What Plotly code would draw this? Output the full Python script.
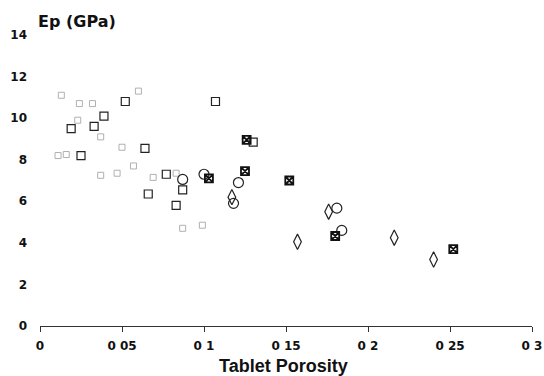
import plotly.graph_objects as go

# Open squares
sq_x = [0.052, 0.039, 0.033, 0.064, 0.077, 0.087, 0.066, 0.083, 0.107, 0.130, 0.019, 0.025]
sq_y = [10.8, 10.1, 9.6, 8.55, 7.3, 6.55, 6.35, 5.8, 10.8, 8.85, 9.5, 8.2]
# Open circles
ci_x = [0.087, 0.100, 0.121, 0.118, 0.181, 0.184]
ci_y = [7.05, 7.3, 6.9, 5.9, 5.67, 4.6]
# Open diamonds
di_x = [0.117, 0.176, 0.157, 0.216, 0.240]
di_y = [6.2, 5.5, 4.05, 4.25, 3.2]
# Crossed squares
cs_x = [0.103, 0.126, 0.125, 0.152, 0.180, 0.252]
cs_y = [7.1, 8.95, 7.45, 7.0, 4.33, 3.7]
# Faint (poorly printed) marker fragments
fx = [0.013, 0.024, 0.032, 0.060, 0.037, 0.023, 0.011, 0.016, 0.057, 0.037, 0.047, 0.069, 0.083, 0.087, 0.099, 0.050]
fy = [11.1, 10.7, 10.7, 11.3, 9.1, 9.9, 8.2, 8.25, 7.7, 7.25, 7.35, 7.15, 7.35, 4.7, 4.85, 8.6]

x_ticks = [0, 0.05, 0.1, 0.15, 0.2, 0.25, 0.3]
x_tick_text = ["0", "0 05", "0 1", "0 15", "0 2", "0 25", "0 3"]
y_ticks = [0, 2, 4, 6, 8, 10, 12, 14]

fig = go.Figure()
fig.add_trace(go.Scatter(x=fx, y=fy, mode="markers",
                         marker=dict(symbol="square-open", size=6, color="#b0b0b0", line=dict(width=1))))
fig.add_trace(go.Scatter(x=sq_x, y=sq_y, mode="markers",
                         marker=dict(symbol="square-open", size=8, color="#222", line=dict(width=1.2))))
fig.add_trace(go.Scatter(x=ci_x, y=ci_y, mode="markers",
                         marker=dict(symbol="circle-open", size=10, color="#222", line=dict(width=1.2))))
fig.add_trace(go.Scatter(x=di_x, y=di_y, mode="markers",
                         marker=dict(symbol="diamond-tall-open", size=11, color="#222", line=dict(width=1.2))))
fig.add_trace(go.Scatter(x=cs_x, y=cs_y, mode="markers",
                         marker=dict(symbol="square-x-open", size=8, color="#111", line=dict(width=1.8))))

tick_font = dict(family="DejaVu Sans", size=12, color="#111", weight="bold")
fig.update_layout(
    width=544, height=376,
    margin=dict(l=40, r=12, t=35, b=50, autoexpand=False),
    paper_bgcolor="white", plot_bgcolor="white",
    showlegend=False,
    xaxis=dict(range=[0, 0.3], tickvals=x_ticks, ticktext=x_tick_text,
               showgrid=False, zeroline=False, showline=True, linecolor="#333", linewidth=1,
               ticks="outside", ticklen=5, tickcolor="#333", ticklabelstandoff=4,
               tickfont=tick_font, automargin=False),
    yaxis=dict(range=[0, 14], tickvals=y_ticks, showgrid=False, zeroline=False, showline=False,
               ticks="", ticklabelstandoff=12, tickfont=tick_font, automargin=False),
    annotations=[
        dict(text="Ep (GPa)", xref="paper", yref="paper", x=-0.008, y=1, xanchor="left", yanchor="middle",
             yshift=14, showarrow=False, font=dict(family="DejaVu Sans", size=16, color="#111", weight="bold")),
        dict(text="Tablet Porosity", xref="paper", yref="paper", x=0.494, y=0, xanchor="center", yanchor="middle",
             yshift=-40, showarrow=False, font=dict(family="Liberation Sans", size=18, color="#111", weight="bold")),
    ],
)
fig.write_html("out.html", config={"displayModeBar": False},
               post_script="document.body.style.margin='0';document.body.style.overflow='hidden';")
